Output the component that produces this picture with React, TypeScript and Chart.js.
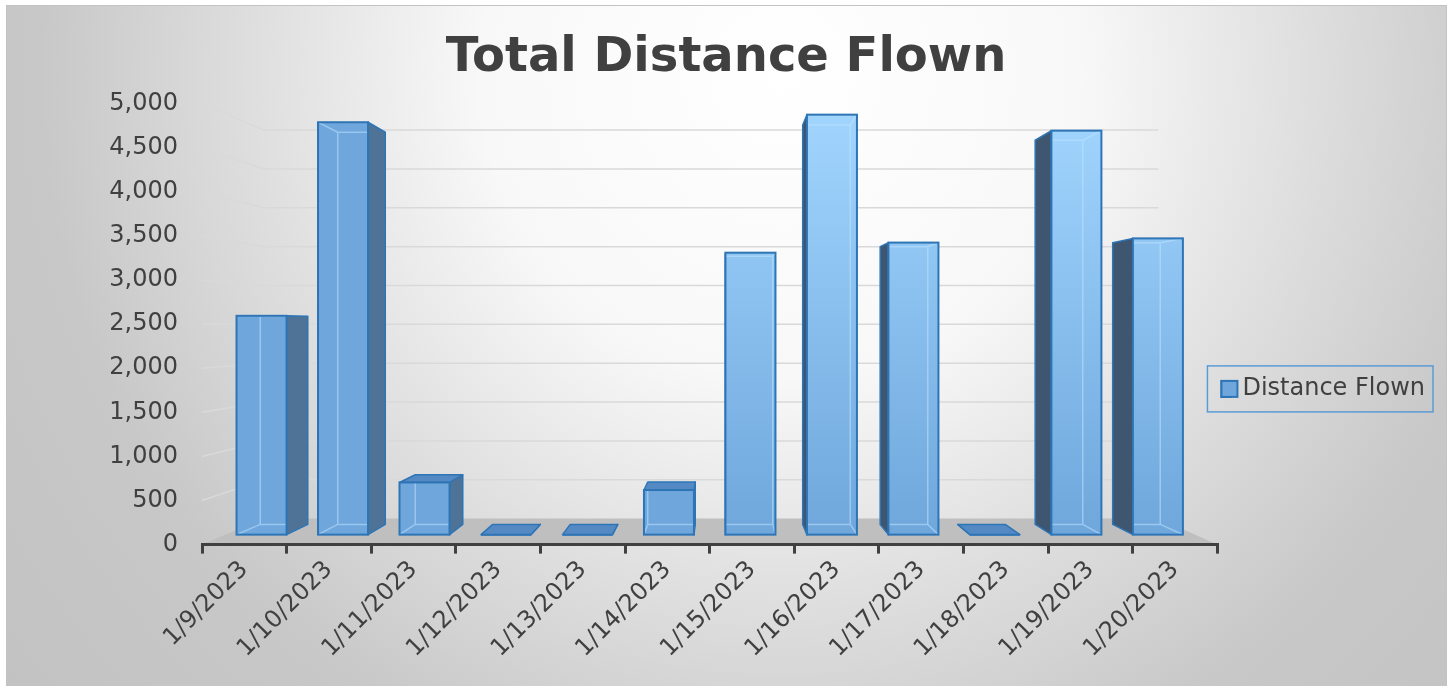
import React, { useEffect, useRef } from 'react';
import { Chart, registerables } from 'chart.js';

Chart.register(...registerables);

// ---------- data ----------
const categories = [
  '1/9/2023', '1/10/2023', '1/11/2023', '1/12/2023', '1/13/2023', '1/14/2023',
  '1/15/2023', '1/16/2023', '1/17/2023', '1/18/2023', '1/19/2023', '1/20/2023',
];
const distanceFlown = [2600, 4900, 620, 0, 0, 530, 3350, 4990, 3470, 0, 4800, 3520];
const yAxisMin = 0;
const yAxisMax = 5000;
const yAxisStep = 500;
const chartTitle = 'Total Distance Flown';
const seriesName = 'Distance Flown';

// ---------- style ----------
const FONT = "'DejaVu Sans', Verdana, sans-serif";
const TEXT = '#404040';
const EDGE = '#2e75b6';
const SIDE_RIGHT = '#4f7396';
const SIDE_LEFT = '#3e566f';
const TOP_FACE = '#5489c3';
const INNER = 'rgba(190,225,255,0.55)';
const MARKER_FILL = '#6fa6db';

// perspective (fractions of the plot area)
const VP_X = 0.5103;
const VP_Y = 0.5045;
const WALL_DEPTH = 0.881;
const BAR_DEPTH = 0.951;
// hidden scales that place the bars' front faces inside the 3D room
const BAR_X_PAD = 0.7305;
const BAR_Y_MIN = -118.6;
const BAR_Y_MAX = 5121.5;

function vanish(chart: any) {
  const a = chart.chartArea;
  return { x: a.left + VP_X * (a.right - a.left), y: a.top + VP_Y * (a.bottom - a.top) };
}
function toward(vp: any, x: number, y: number, s: number): [number, number] {
  return [vp.x + (x - vp.x) * s, vp.y + (y - vp.y) * s];
}

function barBoxes(chart: any) {
  const meta = chart.getDatasetMeta(0);
  const vp = vanish(chart);
  return meta.data.map((el: any) => {
    const p = el.getProps(['x', 'y', 'base', 'width'], true);
    const fx0 = p.x - p.width / 2;
    const fx1 = p.x + p.width / 2;
    const fy0 = Math.min(p.y, p.base);
    const fy1 = Math.max(p.y, p.base);
    const b = (x: number, y: number) => toward(vp, x, y, BAR_DEPTH);
    return { fx0, fx1, fy0, fy1, tl: b(fx0, fy0), tr: b(fx1, fy0), bl: b(fx0, fy1), br: b(fx1, fy1), vp };
  });
}

function quad(ctx: CanvasRenderingContext2D, pts: [number, number][], fill: string) {
  ctx.beginPath();
  ctx.moveTo(pts[0][0], pts[0][1]);
  for (let i = 1; i < pts.length; i++) ctx.lineTo(pts[i][0], pts[i][1]);
  ctx.closePath();
  ctx.fillStyle = fill;
  ctx.fill();
  ctx.stroke();
}

const roomPlugin = {
  id: 'room3d',
  beforeDraw(chart: any) {
    const { ctx, chartArea: a } = chart;
    const ys = chart.scales.y;
    const vp = vanish(chart);
    ctx.save();
    ctx.lineWidth = 1.5;
    ctx.strokeStyle = '#d9d9d9';
    for (const t of ys.ticks) {
      if (t.value === yAxisMin) continue;
      const yf = ys.getPixelForValue(t.value);
      const [lx, ly] = toward(vp, a.left, yf, WALL_DEPTH);
      const [rx] = toward(vp, a.right, yf, WALL_DEPTH);
      ctx.beginPath();
      ctx.moveTo(a.left, yf);
      ctx.lineTo(lx, ly);
      ctx.lineTo(rx, ly);
      ctx.stroke();
    }
    const [blx, bly] = toward(vp, a.left, a.bottom, WALL_DEPTH);
    const [brx] = toward(vp, a.right, a.bottom, WALL_DEPTH);
    ctx.fillStyle = '#bfbfbf';
    ctx.beginPath();
    ctx.moveTo(a.left, a.bottom);
    ctx.lineTo(blx, bly);
    ctx.lineTo(brx, bly);
    ctx.lineTo(a.right, a.bottom);
    ctx.closePath();
    ctx.fill();
    ctx.restore();
  },
  beforeDatasetsDraw(chart: any) {
    const ctx = chart.ctx;
    ctx.save();
    ctx.lineWidth = 1.5;
    ctx.lineJoin = 'round';
    ctx.strokeStyle = EDGE;
    for (const b of barBoxes(chart)) {
      const { fx0, fx1, fy0, fy1, tl, tr, bl, br, vp } = b;
      if (fx1 < vp.x) quad(ctx, [[fx1, fy0], tr, br, [fx1, fy1]], SIDE_RIGHT);
      else if (fx0 > vp.x) quad(ctx, [[fx0, fy0], tl, bl, [fx0, fy1]], SIDE_LEFT);
      if (fy0 > vp.y) quad(ctx, [[fx0, fy0], [fx1, fy0], tr, tl], TOP_FACE);
    }
    ctx.restore();
  },
  afterDatasetsDraw(chart: any) {
    const ctx = chart.ctx;
    for (const b of barBoxes(chart)) {
      const { fx0, fx1, fy0, fy1, tl, tr, bl, br } = b;
      if (fy1 - fy0 > 0.5) {
        ctx.save();
        ctx.beginPath();
        ctx.rect(fx0, fy0, fx1 - fx0, fy1 - fy0);
        ctx.clip();
        ctx.strokeStyle = INNER;
        ctx.lineWidth = 1.5;
        ctx.beginPath();
        ctx.moveTo(tl[0], tl[1]);
        ctx.lineTo(tr[0], tr[1]);
        ctx.lineTo(br[0], br[1]);
        ctx.lineTo(bl[0], bl[1]);
        ctx.closePath();
        ctx.moveTo(fx0, fy0); ctx.lineTo(tl[0], tl[1]);
        ctx.moveTo(fx1, fy0); ctx.lineTo(tr[0], tr[1]);
        ctx.moveTo(fx0, fy1); ctx.lineTo(bl[0], bl[1]);
        ctx.moveTo(fx1, fy1); ctx.lineTo(br[0], br[1]);
        ctx.stroke();
        ctx.restore();
      }
      ctx.save();
      ctx.strokeStyle = EDGE;
      ctx.lineWidth = 2;
      ctx.strokeRect(fx0, fy0, fx1 - fx0, fy1 - fy0);
      ctx.restore();
    }
  },
  afterDraw(chart: any) {
    const lg = chart.legend;
    if (!lg || !lg.legendHitBoxes || !lg.legendHitBoxes.length) return;
    const hb = lg.legendHitBoxes[0];
    const ctx = chart.ctx;
    const cy = hb.top + hb.height / 2;
    ctx.save();
    // square legend marker (the library box is kept narrow so the text sits close to it)
    ctx.fillStyle = MARKER_FILL;
    ctx.strokeStyle = EDGE;
    ctx.lineWidth = 2;
    ctx.fillRect(hb.left, cy - 8, 16, 16);
    ctx.strokeRect(hb.left, cy - 8, 16, 16);
    // legend frame
    ctx.strokeStyle = '#5b9bd5';
    ctx.lineWidth = 1.5;
    ctx.strokeRect(hb.left - 14, cy - 23, hb.width + 22, 46);
    ctx.restore();
  },
};

export default function App() {
  const ref = useRef<HTMLCanvasElement>(null);

  useEffect(() => {
    const canvas = ref.current;
    if (!canvas) return;
    const chart = new Chart(canvas, {
      type: 'bar',
      data: {
        labels: categories,
        datasets: [
          {
            label: seriesName,
            data: distanceFlown.map((v, i) => ({ x: i, y: v })) as any,
            xAxisID: 'xb',
            yAxisID: 'yb',
            barThickness: 50,
            borderWidth: 0,
            backgroundColor: (c: any) => {
              const ch = c.chart;
              const a = ch.chartArea;
              if (!a || !ch.scales.xb) return '#6fa6db';
              const px = ch.scales.xb.getPixelForValue(c.dataIndex);
              if (px < vanish(ch).x) return '#6fa6db';
              const g = ch.ctx.createLinearGradient(0, a.top, 0, a.bottom);
              g.addColorStop(0, '#a2d6ff');
              g.addColorStop(1, '#6ea6db');
              return g;
            },
          },
        ],
      },
      options: {
        animation: false,
        responsive: true,
        maintainAspectRatio: false,
        layout: { padding: { left: 10, right: 11, top: 0, bottom: 21 } },
        scales: {
          x: {
            type: 'category',
            position: 'bottom',
            offset: true,
            border: { display: true, color: TEXT, width: 3 },
            grid: {
              display: true,
              drawOnChartArea: false,
              drawTicks: true,
              tickLength: 9,
              color: TEXT,
              lineWidth: 3,
              offset: true,
            },
            ticks: {
              color: TEXT,
              font: { family: FONT, size: 24 },
              maxRotation: 45,
              minRotation: 45,
              autoSkip: false,
              padding: 2,
            },
          },
          y: {
            type: 'linear',
            position: 'left',
            min: yAxisMin,
            max: yAxisMax,
            border: { display: false },
            grid: { display: false, drawTicks: false },
            ticks: {
              stepSize: yAxisStep,
              color: TEXT,
              padding: 24,
              font: { family: FONT, size: 24 },
              callback: (v: any) => Number(v).toLocaleString('en-US'),
            },
            afterFit: (scale: any) => {
              scale.width = 185;
            },
          },
          xb: {
            type: 'linear',
            display: false,
            offset: false,
            bounds: 'data',
            grace: 0,
            grid: { offset: false },
            min: -BAR_X_PAD,
            max: categories.length - 1 + BAR_X_PAD,
          },
          yb: {
            type: 'linear',
            display: false,
            offset: false,
            bounds: 'data',
            grace: 0,
            min: BAR_Y_MIN,
            max: BAR_Y_MAX,
          },
        },
        plugins: {
          title: {
            display: true,
            text: chartTitle,
            color: TEXT,
            font: { family: FONT, size: 48, weight: 'bold' },
            padding: { top: 24, bottom: 16 },
          },
          legend: {
            display: true,
            position: 'right',
            align: 'center',
            title: { display: true, text: ' ', padding: { top: 0, bottom: 78 }, font: { family: FONT, size: 24 } },
            labels: {
              color: TEXT,
              font: { family: FONT, size: 24 },
              boxWidth: 9,
              boxHeight: 16,
              padding: 4,
              generateLabels: () => [
                {
                  text: seriesName,
                  fillStyle: MARKER_FILL,
                  strokeStyle: EDGE,
                  lineWidth: 2,
                  hidden: false,
                  datasetIndex: 0,
                  fontColor: TEXT,
                } as any,
              ],
            },
          },
          tooltip: { enabled: false },
        },
      },
      plugins: [roomPlugin],
    } as any);
    return () => chart.destroy();
  }, []);

  return (
    <div
      style={{
        position: 'absolute',
        left: 6,
        top: 5,
        width: 1441,
        height: 681,
        boxSizing: 'border-box',
        borderTop: '1px solid #c3c3c3',
        borderLeft: '1px solid #c3c3c3',
        borderRight: '1px solid #c3c3c3',
        background:
          'radial-gradient(circle at 774px 70px, #ffffff 0px, #f8f8f8 300px, #dcdcdc 550px, #c8c8c8 740px, #c2c2c2 1000px)',
      }}
    >
      <canvas ref={ref} style={{ display: 'block' }} />
    </div>
  );
}
